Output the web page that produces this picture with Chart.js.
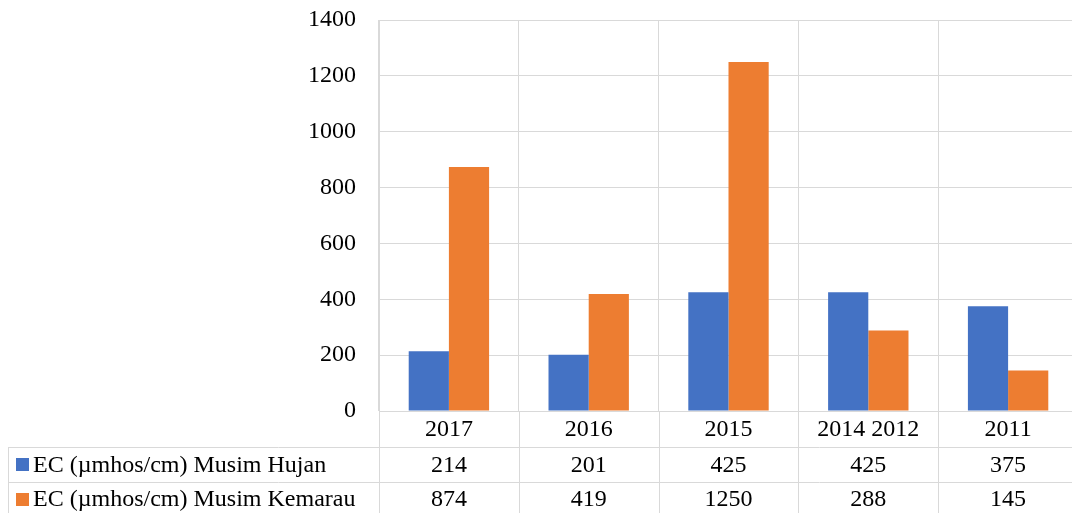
<!DOCTYPE html>
<html>
<head>
<meta charset="utf-8">
<script src="https://cdn.jsdelivr.net/npm/chart.js@4/dist/chart.umd.min.js"></script>
<style>
  html, body { margin: 0; padding: 0; background: #fff; overflow: hidden; }
  #wrap { width: 1090px; height: 513px; }
</style>
</head>
<body>
<div id="wrap"><canvas id="chart" width="1090" height="513"></canvas></div>
<script>
// Data
const categories = ['2017', '2016', '2015', '2014 2012', '2011'];
const hujan = [214, 201, 425, 425, 375];
const kemarau = [874, 419, 1250, 288, 145];
const seriesNames = ['EC (\u00b5mhos/cm) Musim Hujan', 'EC (\u00b5mhos/cm) Musim Kemarau'];
const yMax = 1400;
const yStep = 200;

const FONT = "'Liberation Serif', 'Times New Roman', serif";
const GRID = '#d9d9d9';

// Tableau de données sous le graphique
const dataTable = {
    id: 'dataTable',
    afterDraw(chart) {
        const ctx = chart.ctx;
        const xs = chart.scales.x;
        const area = chart.chartArea;
        const colW = xs.getPixelForValue(1) - xs.getPixelForValue(0);
        const rowH = 34.5;
        const r0 = area.bottom;
        const r1 = r0 + 36;
        const r2 = r1 + rowH;
        const bottom = chart.height + 2;
        const tableLeft = 8;

        ctx.save();
        ctx.strokeStyle = GRID;
        ctx.lineWidth = 1;
        ctx.beginPath();
        for (let i = 0; i < categories.length; i++) {
            const x = Math.round(xs.getPixelForValue(i) - colW / 2) + 0.5;
            ctx.moveTo(x, r0);
            ctx.lineTo(x, bottom);
        }
        ctx.moveTo(tableLeft + 0.5, r1);
        ctx.lineTo(tableLeft + 0.5, bottom);
        [r1, r2].forEach(y => {
            ctx.moveTo(tableLeft, Math.round(y) + 0.5);
            ctx.lineTo(chart.width, Math.round(y) + 0.5);
        });
        ctx.stroke();

        ctx.fillStyle = '#000';
        ctx.font = '24px ' + FONT;
        ctx.textAlign = 'center';
        ctx.textBaseline = 'middle';
        categories.forEach((c, i) => {
            const x = xs.getPixelForValue(i);
            ctx.fillText(c, x, (r0 + r1) / 2 + 1);
            ctx.fillText(String(chart.data.datasets[0].data[i]), x, (r1 + r2) / 2 + 1);
            ctx.fillText(String(chart.data.datasets[1].data[i]), x, r2 + rowH / 2 + 1);
        });

        ctx.textAlign = 'left';
        chart.data.datasets.forEach((ds, k) => {
            const yc = k === 0 ? (r1 + r2) / 2 : r2 + rowH / 2;
            ctx.fillStyle = ds.backgroundColor;
            ctx.fillRect(16, Math.round(yc - 6), 13, 13);
            ctx.fillStyle = '#000';
            ctx.fillText(seriesNames[k], 33, yc + 1);
        });
        ctx.restore();
    }
};

const ctx = document.getElementById('chart').getContext('2d');
new Chart(ctx, {
    type: 'bar',
    data: {
        labels: categories,
        datasets: [
            { label: seriesNames[0], data: hujan, backgroundColor: '#4472C4' },
            { label: seriesNames[1], data: kemarau, backgroundColor: '#ED7D31' }
        ]
    },
    options: {
        responsive: false,
        animation: false,
        layout: { padding: { top: 20, bottom: 102, left: 0, right: 12 } },
        datasets: { bar: { barPercentage: 1, categoryPercentage: 0.575 } },
        plugins: { legend: { display: false }, tooltip: { enabled: false } },
        scales: {
            x: {
                grid: {
                    offset: true,
                    drawTicks: false,
                    // pas de ligne sur le bord droit
                    color: c => (c.index >= categories.length ? 'rgba(0,0,0,0)' : GRID)
                },
                border: { color: GRID },
                ticks: { display: false },
                afterFit(scale) { scale.height = 0; }
            },
            y: {
                min: 0,
                max: yMax,
                ticks: {
                    stepSize: yStep, padding: 23, color: '#000',
                    font: { family: FONT, size: 24 },
                    callback: v => String(v)
                },
                grid: { color: GRID, drawTicks: false },
                border: { color: GRID },
                afterFit(scale) {
                    scale.width = 379;
                    scale.paddingTop = 0;
                    scale.paddingBottom = 0;
                }
            }
        }
    },
    plugins: [dataTable]
});
</script>
</body>
</html>
